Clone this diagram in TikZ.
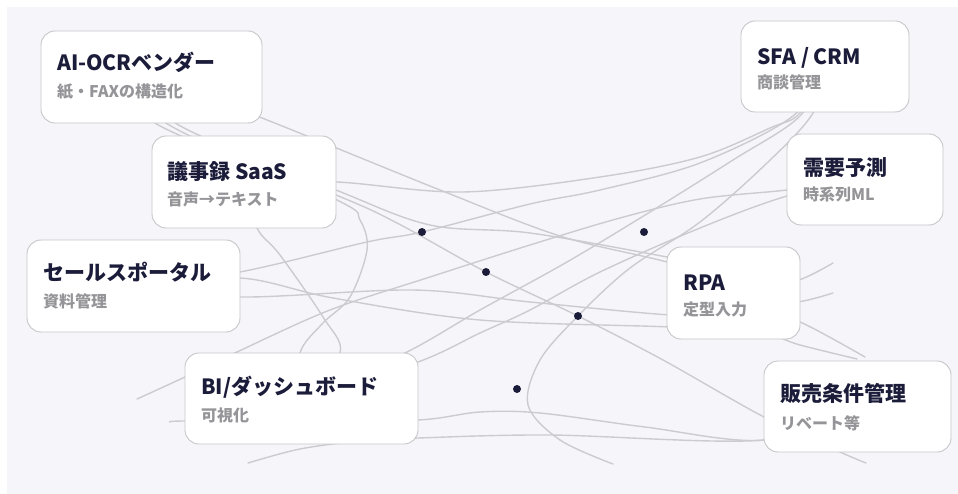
\documentclass[tikz,border=0pt]{standalone}
\usepackage{fontspec}
\setmainfont{Noto Sans CJK JP}
\usetikzlibrary{calc}
\pgfdeclarelayer{panel}
\pgfdeclarelayer{wires}
\pgfsetlayers{panel,wires,main}
\definecolor{panelbg}{HTML}{F6F6FA}
\definecolor{wirec}{HTML}{CBCBD0}
\definecolor{edgec}{HTML}{C6C6CA}
\definecolor{ink}{HTML}{1B1B3A}
\definecolor{muted}{HTML}{959599}
\tikzset{
  wire/.style={draw=wirec, line width=1.4pt, line cap=round, line join=round},
  card/.style={draw=edgec, fill=white, rounded corners=14pt, line width=0.9pt,
    inner sep=0pt, outer sep=0pt, anchor=north west},
  title/.style={anchor=base west, inner sep=0pt, text=ink,
    font=\fontsize{21}{25}\selectfont\bfseries},
  sub/.style={anchor=base west, inner sep=0pt, text=muted,
    font=\fontsize{16}{19}\selectfont\bfseries},
  pulse/.style={circle, fill=ink, inner sep=0pt, minimum size=8pt}
}
\begin{document}
\begin{tikzpicture}[x=1pt,y=-1pt]
\useasboundingbox (0,0) rectangle (958,494);

% cards
\node[card, minimum width=221pt, minimum height=92pt] (ocr) at (41,31) {};
\node[card, minimum width=184pt, minimum height=92pt] (minutes) at (152,136) {};
\node[card, minimum width=213pt, minimum height=92pt] (portal) at (27,240) {};
\node[card, minimum width=233pt, minimum height=91pt] (bi) at (185,353) {};
\node[card, minimum width=168pt, minimum height=91pt] (sfa) at (741,21) {};
\node[card, minimum width=156pt, minimum height=91pt] (demand) at (787,134) {};
\node[card, minimum width=133pt, minimum height=92pt] (rpa) at (667,247) {};
\node[card, minimum width=187pt, minimum height=91pt] (terms) at (764,361) {};

% card texts
\node[title] (ocr-t) at (57,70.5) {AI-OCRベンダー};
\node[sub] (ocr-s) at (57,98) {紙・FAXの構造化};
\node[title] (minutes-t) at (167,179.5) {議事録 SaaS};
\node[sub] (minutes-s) at (167,206) {音声→テキスト};
\node[title] (portal-t) at (43,280.5) {セールスポータル};
\node[sub] (portal-s) at (43,308) {資料管理};
\node[title] (bi-t) at (201,394.5) {BI/ダッシュボード};
\node[sub] (bi-s) at (201,421) {可視化};
\node[title] (sfa-t) at (757,64.5) {SFA / CRM};
\node[sub] (sfa-s) at (757,89) {商談管理};
\node[title] (demand-t) at (803,175.5) {需要予測};
\node[sub] (demand-s) at (803,201) {時系列ML};
\node[title] (rpa-t) at (683,290.5) {RPA};
\node[sub] (rpa-s) at (683,315) {定型入力};
\node[title] (terms-t) at (780,401.5) {販売条件管理};
\node[sub] (terms-s) at (780,429) {リベート等};

% loose ends of the threads
\coordinate (e1) at (833,263);
\coordinate (e2) at (833,293);
\coordinate (e3) at (865,357);
\coordinate (e4) at (857,359);
\coordinate (e5) at (866,463);
\coordinate (e6) at (613,464);
\coordinate (e7) at (137,399);
\coordinate (e8) at (170,422);
\coordinate (e9) at (248,463);

\begin{pgfonlayer}{panel}
  \fill[panelbg] (7,7) rectangle (958,494);
\end{pgfonlayer}

\begin{pgfonlayer}{wires}
  \draw[wire] plot[smooth, tension=0.55] coordinates {(ocr.center) (262,118) (440,190) (560,236) (667,262) (770,292) (795,302) (e2)};
  \draw[wire] plot[smooth, tension=0.55] coordinates {(minutes.center) (337,182) (463,192) (600,177) (700,157) (770,128) (800,113) (sfa.center)};
  \draw[wire] plot[smooth, tension=0.55] coordinates {(ocr.center) (177,124) (336,190) (430,225) (530,233) (667,257) (760,276) (795,281) (e1)};
  \draw[wire] plot[smooth, tension=0.55] coordinates {(ocr.center) (155,123) (336,195) (397,223) (486,272) (578,316) (663,360) (764,417) (840,452) (e5)};
  \draw[wire] plot[smooth, tension=0.55] coordinates {(ocr.center) (166,123) (337,200) (360,220) (367,250) (350,297) (323,323) (300,353) (bi.center)};
  \draw[wire] plot[smooth, tension=0.55] coordinates {(minutes.center) (257,228) (280,255) (323,317) (340,353) (bi.center)};
  \draw[wire] plot[smooth, tension=0.55] coordinates {(portal.center) (240,272) (367,242) (422,232) (530,204) (600,190) (700,163) (793,116) (sfa.center)};
  \draw[wire] plot[smooth, tension=0.55] coordinates {(portal.center) (240,278) (333,298) (480,320) (670,327) (760,333) (800,345) (e4)};
  \draw[wire] plot[smooth, tension=0.55] coordinates {(portal.center) (240,297) (413,290) (530,302) (670,315) (770,318) (800,322) (e3)};
  \draw[wire] plot[smooth, tension=0.55] coordinates {(e7) (185,377) (237,352) (330,310) (430,277) (530,245) (620,218) (700,199) (787,190) (demand.center)};
  \draw[wire] plot[smooth, tension=0.55] coordinates {(bi.center) (418,362) (480,333) (530,310) (600,272) (700,228) (787,196) (demand.center)};
  \draw[wire] plot[smooth, tension=0.55] coordinates {(bi.center) (405,353) (480,310) (567,262) (650,212) (733,160) (800,116) (sfa.center)};
  \draw[wire] plot[smooth, tension=0.55] coordinates {(sfa.center) (813,113) (767,163) (700,222) (630,268) (578,316) (540,360) (528,405) (560,440) (e6)};
  \draw[wire] plot[smooth, tension=0.55] coordinates {(e8) (185,421) (300,421) (418,420) (480,412) (540,413) (645,427) (764,440) (terms.center)};
  \draw[wire] plot[smooth, tension=0.55] coordinates {(e9) (300,449) (360,441) (418,438) (550,435) (764,440) (terms.center)};
\end{pgfonlayer}

% moving markers on the threads
\node[pulse] (p1) at (422,232) {};
\node[pulse] (p2) at (644,232) {};
\node[pulse] (p3) at (486,272) {};
\node[pulse] (p4) at (578,316) {};
\node[pulse] (p5) at (517,389) {};
\end{tikzpicture}
\end{document}
